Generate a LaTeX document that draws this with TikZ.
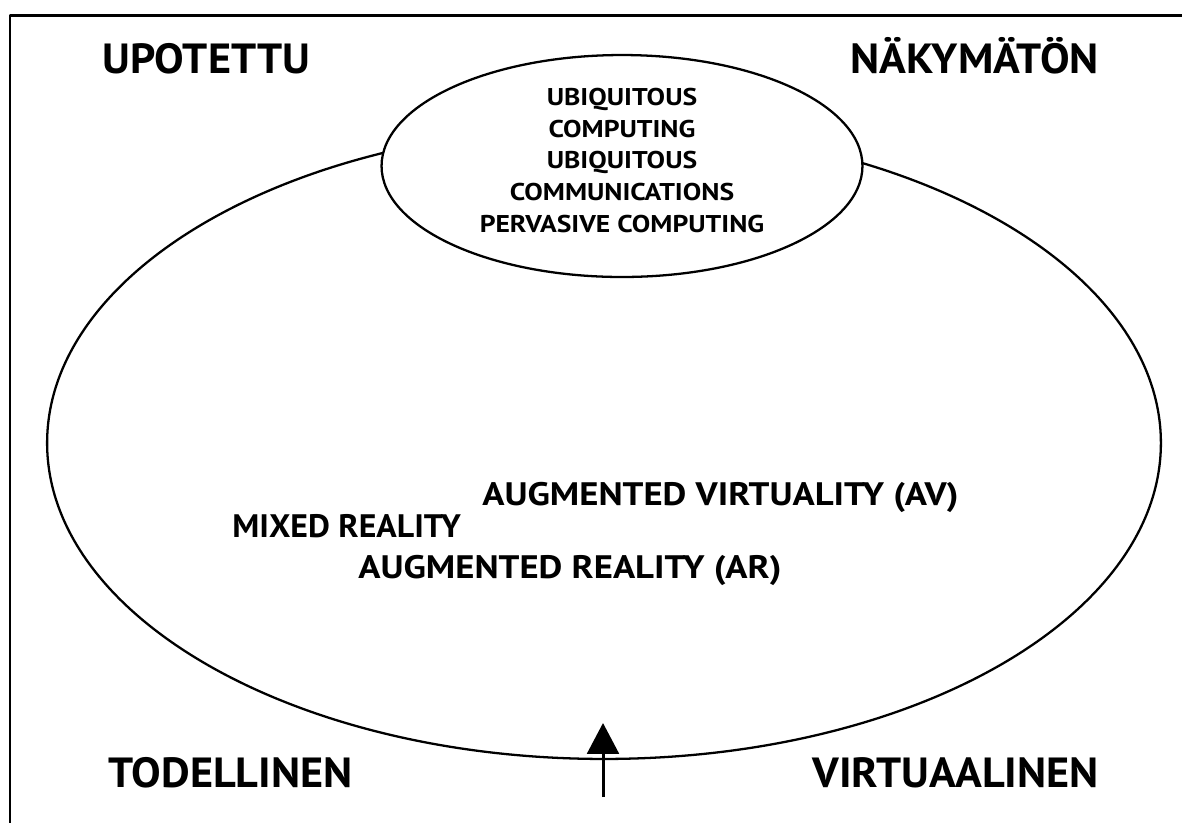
\documentclass[tikz,border=0pt]{standalone}
\usepackage{fontspec}
\setmainfont{PT Sans}
\newfontfamily\cornerfont[FakeStretch=1.05]{PT Sans}
\newfontfamily\midfont[FakeStretch=1.13]{PT Sans}
\newfontfamily\mixedfont[FakeStretch=1.04]{PT Sans}
\newfontfamily\ubifont[FakeStretch=1.14]{PT Sans}
\usetikzlibrary{arrows.meta, positioning, shapes.geometric}

\begin{document}
\begin{tikzpicture}[x=0.02cm, y=-0.02cm, >=Triangle, line join=round]

    \tikzset{
        cornerlabel/.style={font=\cornerfont\bfseries\fontsize{24}{28}\selectfont, inner sep=0pt, anchor=base west},
        midlabel/.style={font=\midfont\bfseries\fontsize{18.5}{22}\selectfont, inner sep=0pt, anchor=base west},
        ubilabel/.style={font=\ubifont\bfseries\fontsize{13.8}{18.2}\selectfont, inner sep=0pt, align=center},
        ring/.style={ellipse, draw, line width=1.3pt, inner sep=0pt}
    }

    \useasboundingbox (0,0) rectangle (1182,823);

    % Frame
    \draw[line width=1.7pt] (1182,15) -- (10,15) -- (10,823);

    % Ellipses
    \node[ring, minimum width=22.28cm, minimum height=12.64cm] (reality) at (604,443) {};
    \node[ring, fill=white, minimum width=9.62cm, minimum height=4.44cm] (ubicomp) at (622,166) {};
    \node[ubilabel] (ubitext) at (622,160.5) {UBIQUITOUS\\COMPUTING\\UBIQUITOUS\\COMMUNICATIONS\\PERVASIVE COMPUTING};

    % Corner labels
    \node[cornerlabel] (upotettu) at (102,73) {UPOTETTU};
    \node[cornerlabel] (nakymaton) at (850,73) {NÄKYMÄTÖN};
    \node[cornerlabel] (todellinen) at (108,787) {TODELLINEN};
    \node[cornerlabel] (virtuaalinen) at (812,787) {VIRTUAALINEN};

    % Middle labels
    \node[midlabel] (av) at (482,505) {AUGMENTED VIRTUALITY (AV)};
    \node[midlabel, font=\mixedfont\bfseries\fontsize{18.5}{22}\selectfont] (mixed) at (232,537) {MIXED REALITY};
    \node[midlabel] (ar) at (358,578) {AUGMENTED REALITY (AR)};

    % Arrow
    \coordinate (foot) at (603,797);
    \coordinate (tip) at (603,723);
    \draw[-{Triangle[length=17.5pt, width=18pt]}, line width=1.7pt] (foot) -- (tip);

\end{tikzpicture}
\end{document}
